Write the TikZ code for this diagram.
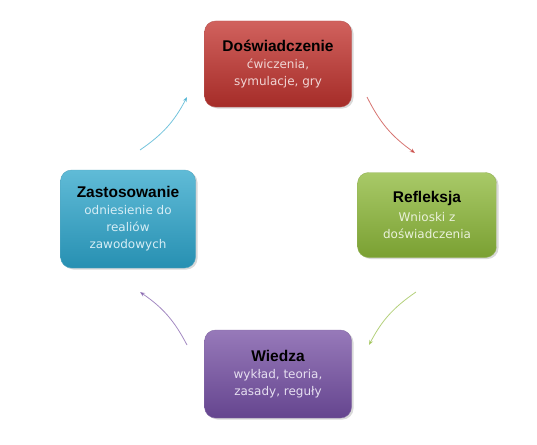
\documentclass[tikz,border=0pt]{standalone}
\usepackage{fontspec}
\setmainfont{Liberation Sans}
\newfontfamily\subfont{DejaVu Sans}
\newcommand\headtext{\color{black}\bfseries\fontsize{15.5}{18}\selectfont}
\newcommand\subtext[1]{\subfont\fontsize{12}{16}\selectfont\color{#1}}
\definecolor{brick}{HTML}{C53A35}
\definecolor{brickdark}{HTML}{A52C28}
\definecolor{brickpale}{HTML}{F0D5D4}
\definecolor{olive}{HTML}{93BC42}
\definecolor{olivedark}{HTML}{7AA032}
\definecolor{olivepale}{HTML}{EAF1DA}
\definecolor{teal}{HTML}{38AACD}
\definecolor{tealdark}{HTML}{2790B2}
\definecolor{tealpale}{HTML}{D6EDF5}
\definecolor{plum}{HTML}{7D58A8}
\definecolor{plumdark}{HTML}{65458F}
\definecolor{plumpale}{HTML}{E6DFF0}
\usetikzlibrary{arrows.meta}

\tikzset{
  stagebox/.style={rounded corners=11pt, align=center, inner sep=0pt},
  boxshadow/.style={fill=black, opacity=0.15, rounded corners=11pt},
  cyclearrow/.style={line width=0.8pt, opacity=0.7, -{Stealth[length=5pt,width=4pt]}}
}

\begin{document}
\begin{tikzpicture}[x=1pt,y=-1pt]
  \useasboundingbox (0,0) rectangle (537,444);
  % soft shadows under the boxes
  \fill[boxshadow] (206.5,22.5) rectangle (353.5,108.5);
  \fill[boxshadow] (359.5,174) rectangle (498.5,259);
  \fill[boxshadow] (206.5,331.5) rectangle (353.5,419.5);
  \fill[boxshadow] (62.5,171.5) rectangle (197.5,269.5);
  % boxes
  \node[stagebox, minimum width=147pt, minimum height=86pt,
        top color=brick!80!white, bottom color=brickdark, draw=brickdark!80]
    (exp) at (278,64)
    {\headtext Doświadczenie\\[5pt]
     \subtext{brickpale}ćwiczenia,\\[5pt]
     \subtext{brickpale}symulacje, gry};
  \node[stagebox, minimum width=139pt, minimum height=85pt,
        top color=olive!80!white, bottom color=olivedark, draw=olivedark!80]
    (refl) at (427,215)
    {\headtext Refleksja\\[5pt]
     \subtext{olivepale}Wnioski z\\[5pt]
     \subtext{olivepale}doświadczenia};
  \node[stagebox, minimum width=147pt, minimum height=88pt,
        top color=plum!80!white, bottom color=plumdark, draw=plumdark!80]
    (know) at (278,374)
    {\headtext Wiedza\\[5pt]
     \subtext{plumpale}wykład, teoria,\\[5pt]
     \subtext{plumpale}zasady, reguły};
  \node[stagebox, minimum width=135pt, minimum height=98pt,
        top color=teal!80!white, bottom color=tealdark, draw=tealdark!80]
    (use) at (128,219)
    {\headtext Zastosowanie\\[5pt]
     \subtext{tealpale}odniesienie do\\[5pt]
     \subtext{tealpale}realiów\\[5pt]
     \subtext{tealpale}zawodowych};
  % arc ends
  \coordinate (a1) at (367,97);
  \coordinate (a2) at (415,153);
  \coordinate (b1) at (416,292);
  \coordinate (b2) at (369,345);
  \coordinate (c1) at (187,345);
  \coordinate (c2) at (140,292);
  \coordinate (d1) at (140,150);
  \coordinate (d2) at (187,97);
  % cycle arrows
  \draw[cyclearrow, brick] (a1) to[bend right=14] (a2);
  \draw[cyclearrow, olive] (b1) to[bend right=14] (b2);
  \draw[cyclearrow, plum] (c1) to[bend right=14] (c2);
  \draw[cyclearrow, teal] (d1) to[bend right=14] (d2);
\end{tikzpicture}
\end{document}
